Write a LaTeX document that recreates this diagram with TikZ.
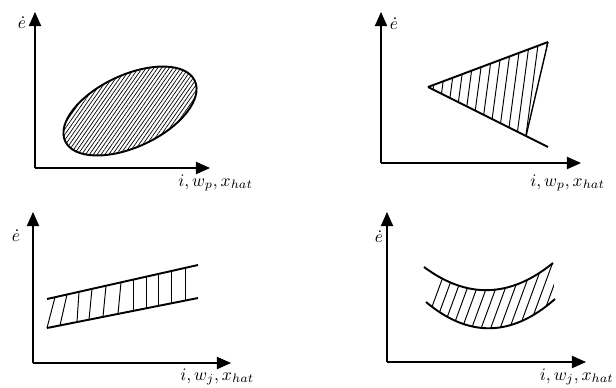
\documentclass[tikz,border=0pt]{standalone}
\usepackage{amsmath,amssymb}
\usepackage{tikz}
\usetikzlibrary{
  arrows.meta,
  calc,
  patterns.meta
}

\tikzset{
  axis/.style={line width=0.6pt,-{Triangle[length=8pt,width=7pt]}},
  bound/.style={line width=1.1pt},
  hatch/.style={line width=0.55pt},
  lab/.style={inner sep=0pt}
}

\begin{document}
\begin{tikzpicture}[x=0.02cm,y=-0.02cm]
  \useasboundingbox (0,0) rectangle (616,387);
  % top left: ellipse
  \coordinate (o1) at (35,168);
  \coordinate (y1) at (35,12);
  \coordinate (x1) at (210,168);
  \node[lab] (e1) at (22,23) {$\dot{e}$};
  \node[lab,anchor=west] (t1) at (178,183) {$i, w_p, x_{hat}$};
  \draw[axis] (o1) -- (y1);
  \draw[axis] (o1) -- (x1);
  \coordinate (c1) at (130,111);
  \draw[bound,rotate around={25:(c1)},
        pattern={Lines[angle=55,distance=1.8pt,line width=0.4pt]}]
    (c1) ellipse (71.5 and 36);
  % top right: wedge
  \coordinate (o2) at (381,163);
  \coordinate (y2) at (381,12);
  \coordinate (x2) at (581,163);
  \node[lab] (e2) at (394,24) {$\dot{e}$};
  \node[lab,anchor=west] (t2) at (530,183) {$i, w_p, x_{hat}$};
  \draw[axis] (o2) -- (y2);
  \draw[axis] (o2) -- (x2);
  \coordinate (A2) at (428,87);
  \coordinate (B2) at (548,42);
  \coordinate (C2) at (548,147);
  \coordinate (D2) at (526,136);
  \begin{scope}
    \clip (A2) -- (B2) -- (D2) -- cycle;
    \foreach \x in {432,441,...,560}
      \draw[hatch] (\x,30) -- (\x-16,150);
  \end{scope}
  \draw[bound] (A2) -- (B2);
  \draw[bound] (A2) -- (C2);
  \draw[line width=0.8pt] (B2) -- (D2);
  % bottom left: band
  \coordinate (o3) at (33,363);
  \coordinate (y3) at (33,212);
  \coordinate (x3) at (231,363);
  \node[lab] (e3) at (16,236) {$\dot{e}$};
  \node[lab,anchor=west] (t3) at (180,377) {$i, w_j, x_{hat}$};
  \draw[axis] (o3) -- (y3);
  \draw[axis] (o3) -- (x3);
  \coordinate (P1) at (47,299);
  \coordinate (P2) at (198,265);
  \coordinate (Q1) at (47,328);
  \coordinate (Q2) at (198,298);
  \foreach \b/\t in {47/55,60/67,77/79,89/92,103/106,118/121,
                     133/133,146/146,158/158,171/171,185/185}
    \draw[hatch] ($(Q1)!{(\b-47)/151}!(Q2)$) -- ($(P1)!{(\t-47)/151}!(P2)$);
  \draw[bound] (P1) -- (P2);
  \draw[bound] (Q1) -- (Q2);
  % bottom right: curved band
  \coordinate (o4) at (387,362);
  \coordinate (y4) at (387,212);
  \coordinate (x4) at (586,362);
  \node[lab] (e4) at (379,237) {$\dot{e}$};
  \node[lab,anchor=east] (t4) at (614,377) {$i, w_j, x_{hat}$};
  \draw[axis] (o4) -- (y4);
  \draw[axis] (o4) -- (x4);
  \coordinate (U1) at (424,267);
  \coordinate (U2) at (553,263);
  \coordinate (L1) at (426,302);
  \coordinate (L2) at (555,299);
  \begin{scope}
    \clip (U1) .. controls (467,299) and (510,298) .. (U2) -- (L2)
      .. controls (512,337) and (469,338) .. (L1) -- cycle;
    \foreach \x in {418,427.5,...,560}
      \draw[hatch] (\x,345) -- (\x+33,255);
  \end{scope}
  \draw[bound] (U1) .. controls (467,299) and (510,298) .. (U2);
  \draw[bound] (L1) .. controls (469,338) and (512,337) .. (L2);
\end{tikzpicture}
\end{document}
